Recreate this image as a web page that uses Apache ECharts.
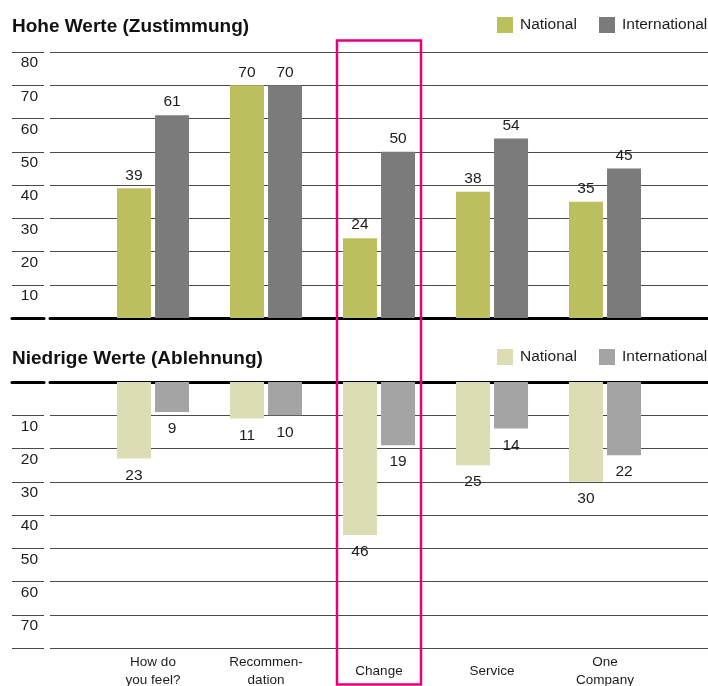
<!DOCTYPE html>
<html>
<head>
<meta charset="utf-8">
<style>
  html, body { margin: 0; padding: 0; background: #fff; }
  #chart { width: 708px; height: 686px; }
</style>
<script src="https://cdn.jsdelivr.net/npm/echarts@6/dist/echarts.min.js"></script>
</head>
<body>
<div id="chart"></div>
<script>
// Survey results: agreement (upper panel) and rejection (lower panel)
const categories = ['How do\nyou feel?', 'Recommen-\ndation', 'Change', 'Service', 'One\nCompany'];
const highNational = [39, 70, 24, 38, 35];
const highInternational = [61, 70, 50, 54, 45];
const lowNational = [23, 11, 46, 25, 30];
const lowInternational = [9, 10, 19, 14, 22];
const yTicksMax = 80;
const yTickStep = 10;

const FONT = "'Liberation Sans', Arial, sans-serif";
const TEXT = '#1c1c1c';
const GRID_LINE = '#4a4a4a';

const chart = echarts.init(document.getElementById('chart'), null, { renderer: 'canvas' });

const PANEL_H = 266;
const TOP_Y = 52;     // y of the 80 line in the upper panel
const LOW_Y = 382;    // y of the zero line in the lower panel

// fixed grid rectangles; labels may touch the canvas edge without shrinking them
function gridAt(left, width, top) {
  return { left, width, top, height: PANEL_H, containLabel: false, outerBoundsMode: 'none' };
}
function barGrid(top) { return gridAt(96.5, 565, top); }
function lineGrid(top) { return gridAt(50, 658, top); }
function stubGrid(top) { return gridAt(12, 32, top); }

function hiddenValueX(gridIndex, pos) {
  return {
    type: 'value', gridIndex, min: 0, max: 1, position: pos,
    axisLine: { show: true, onZero: false, lineStyle: { color: '#000', width: 3 } },
    axisTick: { show: false }, axisLabel: { show: false }, splitLine: { show: false }
  };
}

function linesY(gridIndex, inverse) {
  return {
    type: 'value', gridIndex, min: 0, max: yTicksMax, interval: yTickStep, inverse,
    axisLine: { show: false }, axisTick: { show: false }, axisLabel: { show: false },
    splitLine: { show: true, lineStyle: { color: GRID_LINE, width: 1 } }
  };
}

function stubY(gridIndex, inverse, hidden) {
  return {
    type: 'value', gridIndex, min: 0, max: yTicksMax, interval: yTickStep, inverse,
    position: 'right',
    axisLine: { show: false }, axisTick: { show: false },
    axisLabel: {
      show: true, inside: true, margin: 6, verticalAlign: 'top', lineHeight: 22,
      fontFamily: FONT, fontSize: 15.5, color: TEXT,
      formatter: v => (hidden.indexOf(v) >= 0 ? '' : String(v))
    },
    splitLine: { show: true, lineStyle: { color: GRID_LINE, width: 1 } }
  };
}

function barY(gridIndex, inverse) {
  return {
    type: 'value', gridIndex, min: 0, max: yTicksMax, interval: yTickStep, inverse,
    axisLine: { show: false }, axisTick: { show: false }, axisLabel: { show: false },
    splitLine: { show: false }
  };
}

function barSeries(name, data, color, axisIdx, labelPos) {
  return {
    type: 'bar', name, data,
    xAxisIndex: axisIdx, yAxisIndex: axisIdx,
    barWidth: 34, barGap: '12%',
    itemStyle: { color },
    label: {
      show: true, position: labelPos, distance: labelPos === 'top' ? 5 : 9,
      fontFamily: FONT, fontSize: 15.5, color: TEXT
    },
    z: 3
  };
}

// one legend entry per component so the pairs never wrap
function legendItem(name, left, top) {
  return {
    data: [name], left, top, padding: 0,
    itemWidth: 16, itemHeight: 16, icon: 'rect',
    textStyle: { fontFamily: FONT, fontSize: 15.5, color: TEXT, padding: [4, 0, 0, 2] },
    formatter: n => n.split(' (')[0],
    selectedMode: false
  };
}

chart.setOption({
  animation: false,
  backgroundColor: '#fff',
  title: [
    { text: 'Hohe Werte (Zustimmung)', left: 12, top: 17, padding: 0,
      textStyle: { fontFamily: FONT, fontWeight: 'bold', fontSize: 19, color: '#111' } },
    { text: 'Niedrige Werte (Ablehnung)', left: 12, top: 349, padding: 0,
      textStyle: { fontFamily: FONT, fontWeight: 'bold', fontSize: 19, color: '#111' } }
  ],
  legend: [
    legendItem('National', 497, 17),
    legendItem('International', 599, 17),
    legendItem('National (Ablehnung)', 497, 349),
    legendItem('International (Ablehnung)', 599, 349)
  ],
  grid: [
    barGrid(TOP_Y), lineGrid(TOP_Y), stubGrid(TOP_Y),
    barGrid(LOW_Y), lineGrid(LOW_Y), stubGrid(LOW_Y)
  ],
  xAxis: [
    { type: 'category', gridIndex: 0, data: categories, show: false },
    hiddenValueX(1, 'bottom'),
    hiddenValueX(2, 'bottom'),
    {
      type: 'category', gridIndex: 3, data: categories, position: 'bottom',
      axisLine: { show: false, onZero: false }, axisTick: { show: false },
      axisLabel: {
        show: true, margin: 23, verticalAlign: 'middle', lineHeight: 18,
        fontFamily: FONT, fontSize: 13.5, color: TEXT, interval: 0
      }
    },
    hiddenValueX(4, 'top'),
    hiddenValueX(5, 'top')
  ],
  yAxis: [
    barY(0, false), linesY(1, false), stubY(2, false, [0]),
    barY(3, true), linesY(4, true), stubY(5, true, [0, 80])
  ],
  series: [
    barSeries('National', highNational, '#BBBF5D', 0, 'top'),
    barSeries('International', highInternational, '#7B7B7B', 0, 'top'),
    barSeries('National (Ablehnung)', lowNational, '#DCDDB4', 3, 'bottom'),
    barSeries('International (Ablehnung)', lowInternational, '#A4A4A4', 3, 'bottom')
  ],
  graphic: [{
    type: 'rect', z: 100,
    shape: { x: 337, y: 40.5, width: 84, height: 644 },
    style: { fill: 'none', stroke: '#E5007D', lineWidth: 2.5 }
  }]
});
</script>
</body>
</html>
